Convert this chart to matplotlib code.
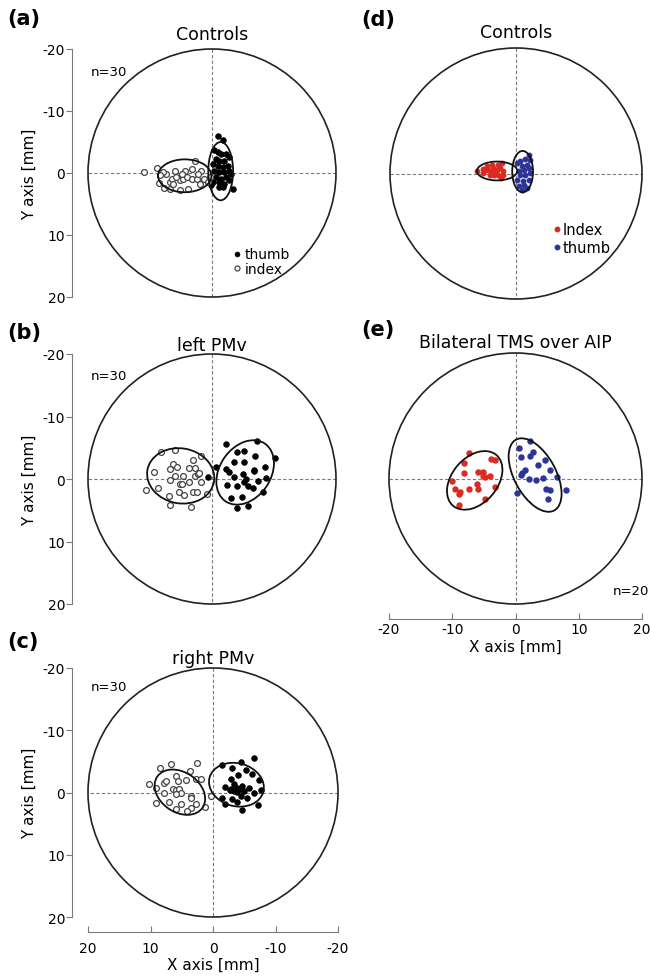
import matplotlib
matplotlib.use("Agg")
import matplotlib.pyplot as plt
from matplotlib.patches import Circle, Ellipse

plt.rcParams['font.family'] = ['DejaVu Sans']
plt.rcParams['axes.unicode_minus'] = False

# ---- data (mm); left panels use reversed x axis, so thumb has negative x ----
# (a) controls
a_index_x = [11.0, 8.8, 8.5, 7.7, 7.4, 6.8, 6.4, 6.0, 5.2, 4.7, 4.4, 4.1, 3.9, 3.3, 2.8,
             3.2, 2.5, 2.0, 1.7, 1.3, 0.6, 5.2, 6.8, 0.3, 7.9, 5.8, 8.4, 4.9, 2.3, 6.3]
a_index_y = [-0.2, -0.8, 1.6, 2.4, 0.1, 1.5, 0.9, -0.4, 1.2, 0.9, -0.4, 0.6, 2.5, 0.9, -2.0,
             -0.7, 0.9, 1.7, -0.4, 0.9, 1.5, 2.7, 2.5, 0.6, -0.2, 0.6, 0.4, 0.1, 0.1, 1.7]
a_thumb_x = [-1.0, -1.8, -0.4, -1.0, -1.5, -2.3, -0.6, -1.2, -2.0, -2.8, -0.2, -1.0, -1.8, -2.6, -0.4,
             -1.2, -2.0, -2.8, -0.7, -1.5, -2.3, -3.1, -0.2, -1.2, -2.0, -2.8, -1.2, -1.8, -3.4, 0.1]
a_thumb_y = [-5.9, -5.4, -3.7, -3.4, -3.1, -3.1, -2.3, -2.0, -2.0, -2.6, -1.5, -1.2, -1.0, -1.2, -0.4,
             -0.2, -0.2, -0.4, 0.6, 0.9, 0.6, 0.1, 1.5, 1.5, 1.7, 1.2, 2.3, 2.3, 2.6, 2.0]
# ellipses: cx, cy, width, height, angle as seen on screen
a_index_ell = (4.4, 0.45, 8.6, 5.3, 0)
a_thumb_ell = (-1.4, -0.3, 4.0, 9.4, 0)

# (b) left PMv
b_index_x = [10.7, 9.3, 8.7, 8.3, 7.0, 6.7, 6.8, 6.3, 6.7, 6.0, 5.7, 5.4, 5.2, 4.9, 4.5,
             4.6, 3.7, 3.0, 2.8, 2.7, 3.0, 2.4, 2.2, 1.8, 2.1, 1.8, 0.8, 6.0, 3.4, 3.7]
b_index_y = [1.8, -1.2, 1.5, -4.3, 2.7, 4.1, 0.1, -2.4, -1.6, -0.5, -1.9, 2.1, 0.8, 0.8, 2.6,
             -0.5, -1.8, -3.0, -0.5, -1.8, 2.0, 2.0, -0.8, 0.5, -1.0, -3.7, 2.4, -4.7, 4.4, 0.5]
b_thumb_x = [-2.3, -7.3, -10.2, -4.0, -5.1, -7.0, -3.6, -5.2, -2.3, -2.7, -6.7, -8.6, -0.7, 0.6, -3.5,
             -5.0, -5.5, -5.2, -5.8, -7.4, -8.7, -2.4, -4.0, -6.6, -8.2, -3.1, -4.9, -4.0, -5.8, -6.8]
b_thumb_y = [-5.6, -6.1, -3.4, -4.3, -4.5, -3.7, -2.8, -2.7, -1.6, -1.1, -1.4, -2.0, -2.0, -0.3, -0.3,
             -0.8, 0.0, 0.5, 1.1, 0.3, -0.2, 1.0, 1.1, 1.4, 2.1, 3.1, 2.9, 4.6, 4.3, -1.3]
b_index_ell = (5.05, -0.5, 10.9, 8.8, -10)
b_thumb_ell = (-5.35, -1.05, 11.2, 8.2, 55)

# (c) right PMv
c_index_x = [10.2, 8.5, 6.7, 2.5, 3.7, 7.9, 7.5, 5.9, 5.6, 4.4, 2.8, 2.0, 9.1, 7.9, 6.4,
             6.0, 5.5, 5.2, 5.9, 3.6, 3.5, 7.1, 5.2, 2.8, 9.1, 6.0, 1.3, 3.6, 4.1, 0.4]
c_index_y = [-1.3, -4.0, -4.5, -4.7, -3.5, -1.6, -1.8, -2.6, -1.9, -2.0, -2.2, -2.2, -0.8, 0.0, -0.5,
             -0.4, -0.5, 0.0, 0.3, 0.5, 0.9, 1.6, 1.9, 1.9, 1.7, 2.6, 2.3, 2.5, 3.0, 0.5]
c_thumb_x = [-1.5, -3.1, -4.4, -6.5, -5.3, -4.0, -6.2, -2.8, -1.9, -2.8, -3.4, -3.8, -4.4, -4.7, -5.8,
             -5.0, -2.7, -3.4, -3.9, -7.4, -7.7, -6.6, -5.5, -4.5, -1.5, -3.0, -3.9, -1.9, -4.7, -7.2]
c_thumb_y = [-4.4, -4.0, -4.9, -5.5, -3.6, -2.8, -3.0, -2.2, -0.9, -0.6, -1.3, -0.8, -0.5, -1.1, -0.8,
             -0.3, -0.4, -0.2, -0.1, -2.0, -0.4, 0.1, 0.9, 0.5, 0.9, 1.0, 1.6, 1.9, 2.8, 2.0]
c_index_ell = (5.3, -0.05, 8.8, 6.4, -35)
c_thumb_ell = (-3.75, -1.25, 8.9, 6.9, -15)

# (d) controls (colour)
d_index_x = [-6.2, -5.3, -5.2, -4.6, -4.4, -3.8, -3.6, -3.3, -3.0, -2.8,
             -2.5, -2.2, -2.0, -2.4, -4.1, -4.9, -3.5, -2.1, -2.9, -3.8]
d_index_y = [-0.4, -0.7, -0.1, -1.2, -0.5, -1.4, -0.9, -0.1, -0.6, 0.2,
             -0.9, -1.7, -0.4, 0.7, 0.2, -0.5, 0.3, 0.2, -1.3, -0.4]
d_thumb_x = [0.2, 0.7, 1.5, 2.0, 2.3, 1.0, 1.8, 0.4, 1.2, 2.0,
             2.3, 0.7, 1.5, 0.2, 1.1, 2.0, 0.4, 1.2, 1.8, 1.0]
d_thumb_y = [-1.7, -2.0, -2.3, -3.0, -2.2, -1.2, -1.4, -0.4, -0.6, -0.9,
             -0.1, 0.3, 0.2, 1.0, 1.2, 1.0, 2.0, 1.8, 2.3, 2.6]
d_index_ell = (-3.0, -0.4, 6.4, 3.0, 0)
d_thumb_ell = (1.05, -0.3, 3.3, 6.6, 0)

# (e) bilateral TMS over AIP
e_index_x = [-7.4, -8.1, -3.9, -3.2, -8.1, -6.0, -5.2, -5.2, -4.9, -4.1,
             -6.1, -10.1, -9.5, -8.8, -8.9, -7.4, -6.0, -3.3, -4.8, -8.9]
e_index_y = [-4.0, -2.4, -3.1, -2.9, -0.9, -1.1, -1.1, -0.4, -0.2, -0.4,
             0.8, 0.4, 1.6, 2.2, 2.5, 1.6, 1.6, 1.3, 3.3, 4.2]
e_thumb_x = [2.3, 0.5, 0.8, 2.3, 2.7, 4.7, 3.6, 1.1, 1.5, 0.8,
             2.1, 3.3, 4.4, 5.5, 6.5, 4.8, 5.5, 8.0, 5.1, 0.2]
e_thumb_y = [-6.0, -4.9, -3.4, -3.6, -4.2, -3.0, -2.1, -0.9, -1.3, -0.6,
             0.1, 0.3, -0.1, -1.3, -0.2, 1.6, 1.9, 1.9, 3.2, 2.3]
e_index_ell = (-6.45, 0.3, 10.6, 7.2, 50)
e_thumb_ell = (3.1, -0.55, 12.8, 6.6, -62)

ticks = [-20, -10, 0, 10, 20]
RED = '#dc2a20'
BLUE = '#2c3597'
GRAY = '#7a7a7a'

W, H = 651, 978
fig = plt.figure(figsize=(6.51, 9.78), dpi=100)


def px_axes(x0, y0, w, h):
    return fig.add_axes([x0 / W, 1 - (y0 + h) / H, w / W, h / H])


def base(ax, xrev):
    ax.set_xlim((20, -20) if xrev else (-20, 20))
    ax.set_ylim(20, -20)
    for s in ax.spines.values():
        s.set_visible(False)
    ax.set_xticks([])
    ax.set_yticks([])
    ax.add_patch(Circle((0, 0), 20, fill=False, lw=1.2, ec='#222', clip_on=False, zorder=1))
    ax.plot([-20, 20], [0, 0], ls=(0, (3, 2)), lw=0.8, color=GRAY, zorder=0)
    ax.plot([0, 0], [-20, 20], ls=(0, (3, 2)), lw=0.8, color=GRAY, zorder=0)


def ellipse(ax, e):
    cx, cy, w, h, ang = e
    # screen angle -> data angle (one inverted axis mirrors rotation)
    flip = ax.xaxis_inverted() != ax.yaxis_inverted()
    ax.add_patch(Ellipse((cx, cy), w, h, angle=-ang if flip else ang,
                         fill=False, lw=1.3, ec='#111', zorder=4))


def yaxis(ax):
    ax.spines['left'].set_visible(True)
    ax.spines['left'].set_position(('outward', 11.5))
    ax.spines['left'].set_bounds(-20, 20)
    ax.spines['left'].set_color(GRAY)
    ax.set_yticks(ticks)
    ax.tick_params(axis='y', direction='out', length=4, color=GRAY, labelsize=10, pad=1)
    ax.set_ylabel('Y axis [mm]', fontsize=11)
    ax.yaxis.set_label_coords(-0.205, 0.5)


def xaxis(ax, pad):
    ax.spines['bottom'].set_visible(True)
    ax.spines['bottom'].set_position(('outward', 10.5))
    ax.spines['bottom'].set_bounds(-20, 20)
    ax.spines['bottom'].set_color(GRAY)
    ax.set_xticks(ticks)
    ax.tick_params(axis='x', direction='in', length=4, color=GRAY, labelsize=10, pad=pad)
    ax.set_xlabel('X axis [mm]', fontsize=11)


def bw_points(ax, ix, iy, tx, ty):
    th, = ax.plot(tx, ty, 'o', ms=4, mfc='black', mec='black', mew=0.6, ls='none', zorder=3, label='thumb')
    ix_, = ax.plot(ix, iy, 'o', ms=4.2, mfc='white', mec='#444', mew=0.9, ls='none', zorder=3, label='index')
    return th, ix_


def title(ax, txt, yfrac):
    ax.text(0.5, yfrac, txt, transform=ax.transAxes, ha='center', va='baseline', fontsize=12.5)


def n_label(ax, txt, x, y, ha='left'):
    ax.text(x, y, txt, transform=ax.transAxes, ha=ha, va='baseline', fontsize=9.5)


# (a)
ax_a = px_axes(88, 50, 248, 248)
base(ax_a, True)
th, ix = bw_points(ax_a, a_index_x, a_index_y, a_thumb_x, a_thumb_y)
ellipse(ax_a, a_index_ell)
ellipse(ax_a, a_thumb_ell)
yaxis(ax_a)
title(ax_a, 'Controls', 1.04)
n_label(ax_a, 'n=30', 0.012, 0.895)
ax_a.legend(handles=[th, ix], loc='upper left', bbox_to_anchor=(0.585, 0.2), frameon=False,
            fontsize=10, handlelength=0.5, handletextpad=0.35, labelspacing=0.05,
            borderpad=0, borderaxespad=0, markerscale=0.85)

# (b)
ax_b = px_axes(88, 355, 248, 250)
base(ax_b, True)
bw_points(ax_b, b_index_x, b_index_y, b_thumb_x, b_thumb_y)
ellipse(ax_b, b_index_ell)
ellipse(ax_b, b_thumb_ell)
yaxis(ax_b)
title(ax_b, 'left PMv', 1.016)
n_label(ax_b, 'n=30', 0.012, 0.9)

# (c)
ax_c = px_axes(88, 669, 250, 249)
base(ax_c, True)
bw_points(ax_c, c_index_x, c_index_y, c_thumb_x, c_thumb_y)
ellipse(ax_c, c_index_ell)
ellipse(ax_c, c_thumb_ell)
yaxis(ax_c)
xaxis(ax_c, 6.5)
ax_c.xaxis.set_label_coords(0.5, -0.158)
ax_c.xaxis.label.set_va('top')
title(ax_c, 'right PMv', 1.02)
n_label(ax_c, 'n=30', 0.012, 0.91)

# (d)
ax_d = px_axes(390, 49, 252, 251)
base(ax_d, False)
ri, = ax_d.plot(d_index_x, d_index_y, 'o', ms=3.2, color=RED, ls='none', zorder=3, label='Index')
bt, = ax_d.plot(d_thumb_x, d_thumb_y, 'o', ms=3.2, color=BLUE, ls='none', zorder=3, label='thumb')
ellipse(ax_d, d_index_ell)
ellipse(ax_d, d_thumb_ell)
title(ax_d, 'Controls', 1.044)
ax_d.legend(handles=[ri, bt], loc='upper left', bbox_to_anchor=(0.655, 0.305), frameon=False,
            fontsize=10.5, handlelength=0.3, handletextpad=0.2, labelspacing=0.2,
            borderpad=0, borderaxespad=0, markerscale=1.0)

# (e)
ax_e = px_axes(389, 354, 253, 251)
base(ax_e, False)
ax_e.plot(e_index_x, e_index_y, 'o', ms=3.6, color=RED, ls='none', zorder=3)
ax_e.plot(e_thumb_x, e_thumb_y, 'o', ms=3.6, color=BLUE, ls='none', zorder=3)
ellipse(ax_e, e_index_ell)
ellipse(ax_e, e_thumb_ell)
xaxis(ax_e, 2.5)
ax_e.xaxis.set_label_coords(0.5, -0.14)
ax_e.xaxis.label.set_va('top')
title(ax_e, 'Bilateral TMS over AIP', 1.024)
n_label(ax_e, 'n=20', 1.03, 0.04, ha='right')

# panel letters
for lab, (x, y) in {'(a)': (7, 9), '(b)': (7, 323), '(c)': (7, 632),
                    '(d)': (361, 10), '(e)': (361, 320)}.items():
    fig.text(x / W, 1 - y / H, lab, ha='left', va='top', fontsize=15, fontweight='bold')

fig.savefig('out.png', dpi=100)
